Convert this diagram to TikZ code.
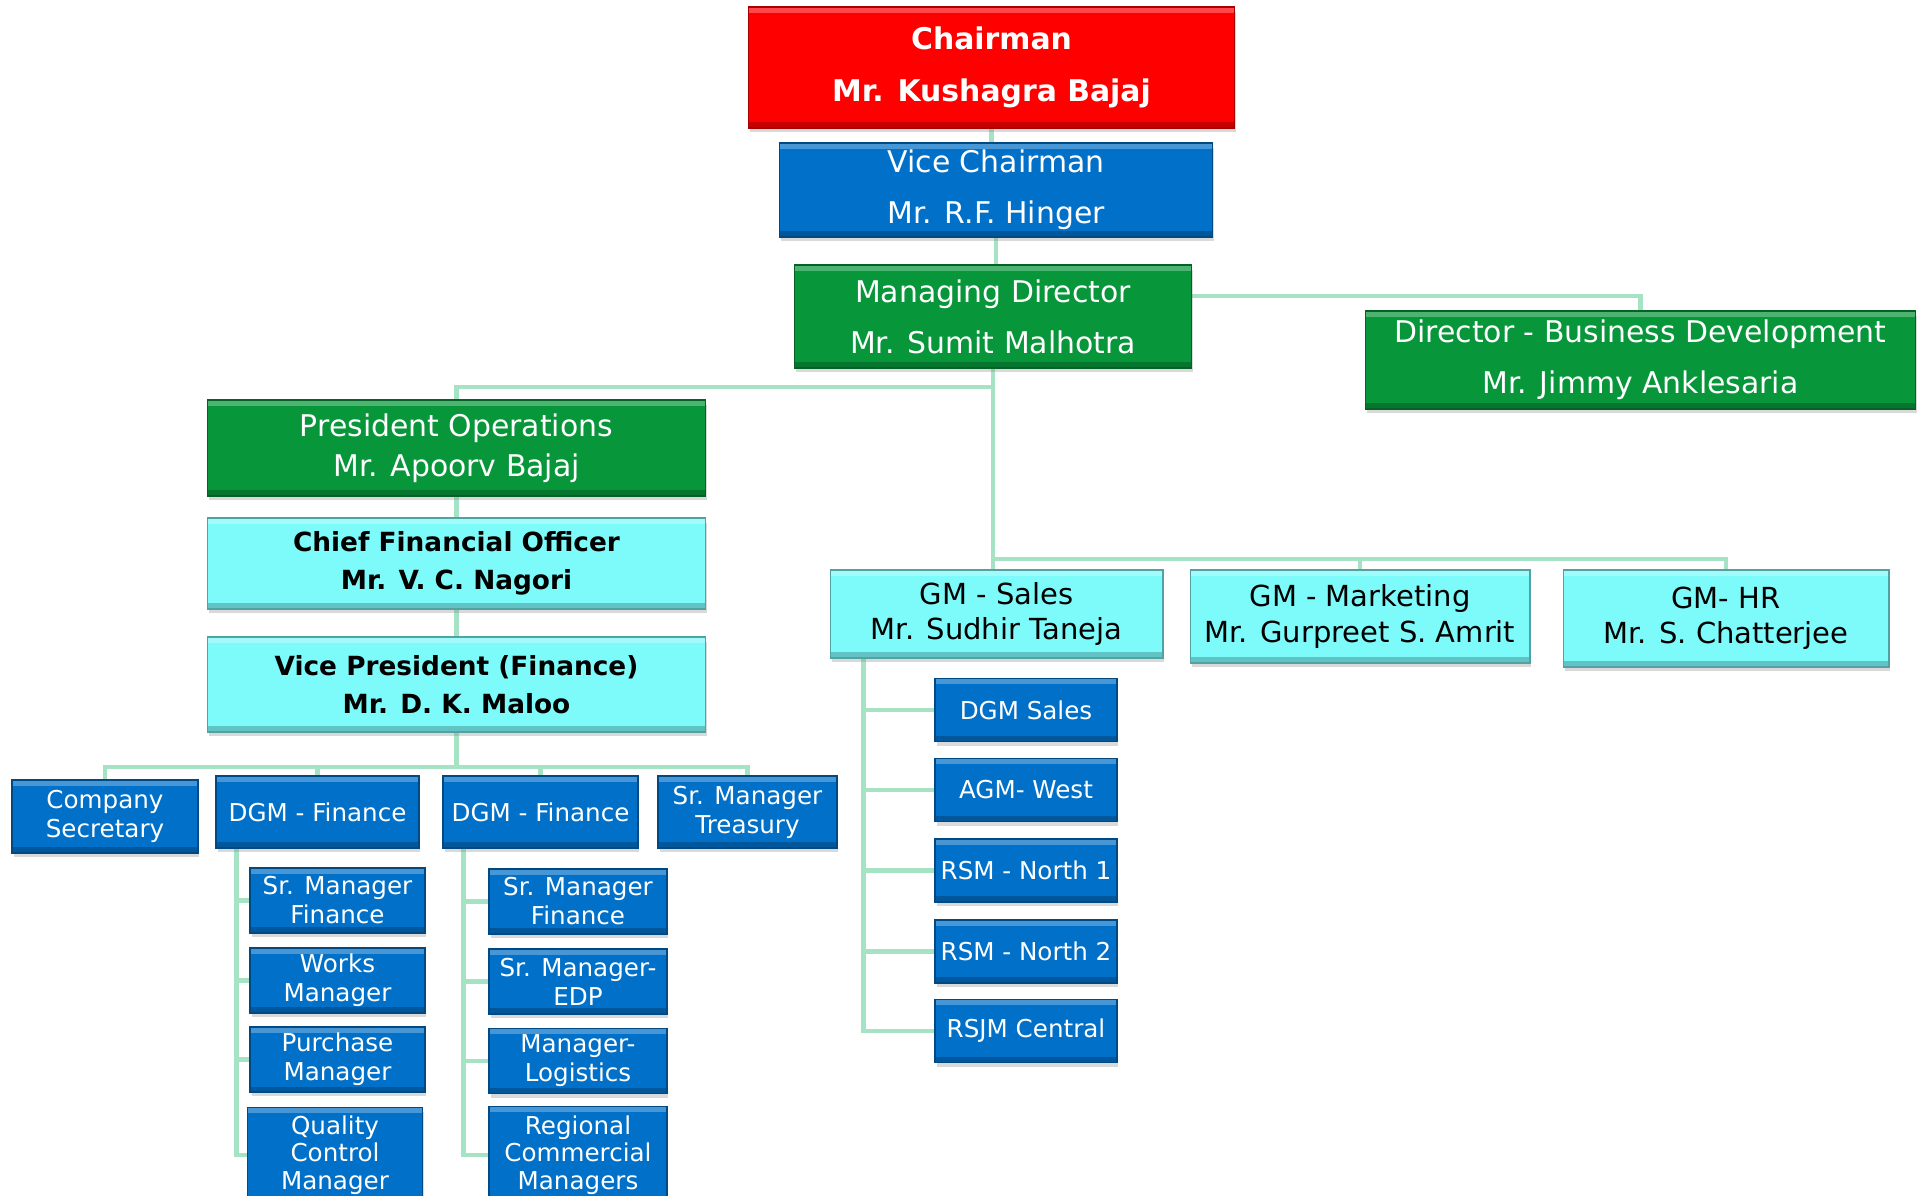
\documentclass[tikz,border=0pt]{standalone}
\usepackage{fontspec}
\setmainfont{DejaVu Sans}
\usetikzlibrary{positioning,shadows,backgrounds,calc}
\definecolor{chairred}{RGB}{255,0,0}
\definecolor{orgblue}{RGB}{0,112,200}
\definecolor{orggreen}{RGB}{8,150,58}
\definecolor{orgcyan}{RGB}{125,250,250}
\definecolor{wiregreen}{RGB}{166,227,197}
\tikzset{
  box/.style      = {rectangle, draw=#1!65!black, fill=#1, line width=0.6pt, align=center,
                     inner sep=1pt,
                     drop shadow={shadow xshift=0.03cm, shadow yshift=-0.09cm, opacity=0.3},
                     path picture={
                       \fill[white,opacity=0.28] (path picture bounding box.north west)
                         rectangle ([yshift=-0.11cm]path picture bounding box.north east);
                       \fill[black,opacity=0.22] (path picture bounding box.south west)
                         rectangle ([yshift=0.11cm]path picture bounding box.south east);}},
  chairbox/.style = {box=chairred, text=white, font=\bfseries\fontsize{17}{30}\selectfont},
  headbox/.style  = {box=orgblue, text=white, font=\fontsize{17}{29}\selectfont},
  greenbox/.style = {box=orggreen, text=white, font=\fontsize{17}{29}\selectfont},
  cyanbox/.style  = {box=orgcyan, text=black, font=\bfseries\fontsize{15}{22}\selectfont},
  gmbox/.style    = {box=orgcyan, text=black, font=\fontsize{16.5}{20}\selectfont},
  smallbox/.style = {box=orgblue, text=white, font=\fontsize{14}{16.5}\selectfont},
  wire/.style     = {draw=wiregreen, line width=2.4pt},
}
\begin{document}
\begin{tikzpicture}[x=0.02cm,y=-0.02cm]
  \useasboundingbox (0,0) rectangle (1925,1196);
  % board
  \node[chairbox, minimum width=9.74cm, minimum height=2.42cm] (chair) at (991.5,67.5)
    {Chairman\\Mr. Kushagra Bajaj};
  \node[headbox, minimum width=8.68cm, minimum height=1.88cm] (vice) at (996,190)
    {Vice Chairman\\Mr. R.F. Hinger};
  \node[greenbox, minimum width=7.96cm, minimum height=2.06cm] (md) at (993,316.5)
    {Managing Director\\Mr. Sumit Malhotra};
  \node[greenbox, minimum width=11.02cm, minimum height=1.96cm] (dirbd) at (1640.5,360)
    {Director - Business Development\\Mr. Jimmy Anklesaria};
  % operations and finance
  \node[greenbox, font=\fontsize{17}{23}\selectfont, minimum width=9.98cm, minimum height=1.92cm]
    (pres) at (456.5,448) {President Operations\\Mr. Apoorv Bajaj};
  \node[cyanbox, minimum width=9.98cm, minimum height=1.82cm] (cfo) at (456.5,563.5)
    {Chief Financial Officer\\Mr. V. C. Nagori};
  \node[cyanbox, minimum width=9.98cm, minimum height=1.90cm] (vpf) at (456.5,684.5)
    {Vice President (Finance)\\Mr. D. K. Maloo};
  % general managers
  \node[gmbox, minimum width=6.66cm, minimum height=1.76cm] (gmsales) at (996.5,614)
    {GM - Sales\\Mr. Sudhir Taneja};
  \node[gmbox, minimum width=6.80cm, minimum height=1.86cm] (gmmkt) at (1360,616.5)
    {GM - Marketing\\Mr. Gurpreet S. Amrit};
  \node[gmbox, minimum width=6.52cm, minimum height=1.94cm] (gmhr) at (1726,618.5)
    {GM- HR\\Mr. S. Chatterjee};
  % finance row
  \node[smallbox, minimum width=3.72cm, minimum height=1.46cm] (cs) at (105,816.5)
    {Company\\Secretary};
  \node[smallbox, minimum width=4.06cm, minimum height=1.44cm] (dgma) at (317.5,812)
    {DGM - Finance};
  \node[smallbox, minimum width=3.90cm, minimum height=1.44cm] (dgmb) at (540.5,812)
    {DGM - Finance};
  \node[smallbox, minimum width=3.58cm, minimum height=1.44cm] (treas) at (747.5,812)
    {Sr. Manager\\Treasury};
  % under the first DGM
  \begin{scope}[every node/.style={smallbox, minimum width=3.5cm, minimum height=1.3cm}]
    \node (smfa) at (337.5,900.5) {Sr. Manager\\Finance};
    \node (works) at (337.5,980.5) {Works\\Manager};
    \node (purch) at (337.5,1059.5) {Purchase\\Manager};
    \node[minimum height=1.9cm, font=\fontsize{14}{15.5}\selectfont] (qc) at (335,1155)
      {Quality\\Control\\Manager};
  \end{scope}
  % under the second DGM
  \begin{scope}[every node/.style={smallbox, minimum width=3.56cm, minimum height=1.3cm}]
    \node (smfb) at (578,901.5) {Sr. Manager\\Finance};
    \node (edp) at (578,981.5) {Sr. Manager-\\EDP};
    \node (logis) at (578,1061) {Manager-\\Logistics};
    \node[minimum height=1.94cm, font=\fontsize{14}{15.5}\selectfont] (rcm) at (578,1155)
      {Regional\\Commercial\\Managers};
  \end{scope}
  % under GM sales
  \begin{scope}[every node/.style={smallbox, minimum width=3.64cm, minimum height=1.26cm}]
    \node (dgms) at (1026,710) {DGM Sales};
    \node (agmw) at (1026,790) {AGM- West};
    \node (rsma) at (1026,870.5) {RSM - North 1};
    \node (rsmb) at (1026,951.5) {RSM - North 2};
    \node (rsjm) at (1026,1031) {RSJM Central};
  \end{scope}
  % connectors
  \begin{scope}[on background layer]
    \coordinate (jop) at (993,387);
    \coordinate (jgm) at (993,559);
    \coordinate (jfin) at (456.5,767);
    \coordinate (ta) at ([xshift=0.42cm]dgma.south west);
    \coordinate (tb) at ([xshift=0.42cm]dgmb.south west);
    \coordinate (ts) at ([xshift=0.68cm]gmsales.south west);
    \draw[wire] (chair.south) -- (chair.south |- vice.north);
    \draw[wire] (vice.south) -- (vice.south |- md.north);
    \draw[wire] ([yshift=0.41cm]md.east) -| (dirbd.north);
    \draw[wire] (md.south) -- (md.south |- gmsales.north);
    \draw[wire] (jop) -| (pres.north);
    \draw[wire] (jgm) -| (gmmkt.north);
    \draw[wire] (jgm) -| (gmhr.north);
    \draw[wire] (pres) -- (cfo);
    \draw[wire] (cfo) -- (vpf);
    \draw[wire] (vpf.south) -- (jfin);
    \foreach \n in {cs,dgma,dgmb,treas}
      \draw[wire] (jfin) -| (\n.north);
    \foreach \n in {smfa,works,purch,qc}
      \draw[wire] (ta) |- (\n.west);
    \foreach \n in {smfb,edp,logis,rcm}
      \draw[wire] (tb) |- (\n.west);
    \foreach \n in {dgms,agmw,rsma,rsmb,rsjm}
      \draw[wire] (ts) |- (\n.west);
  \end{scope}
\end{tikzpicture}
\end{document}
